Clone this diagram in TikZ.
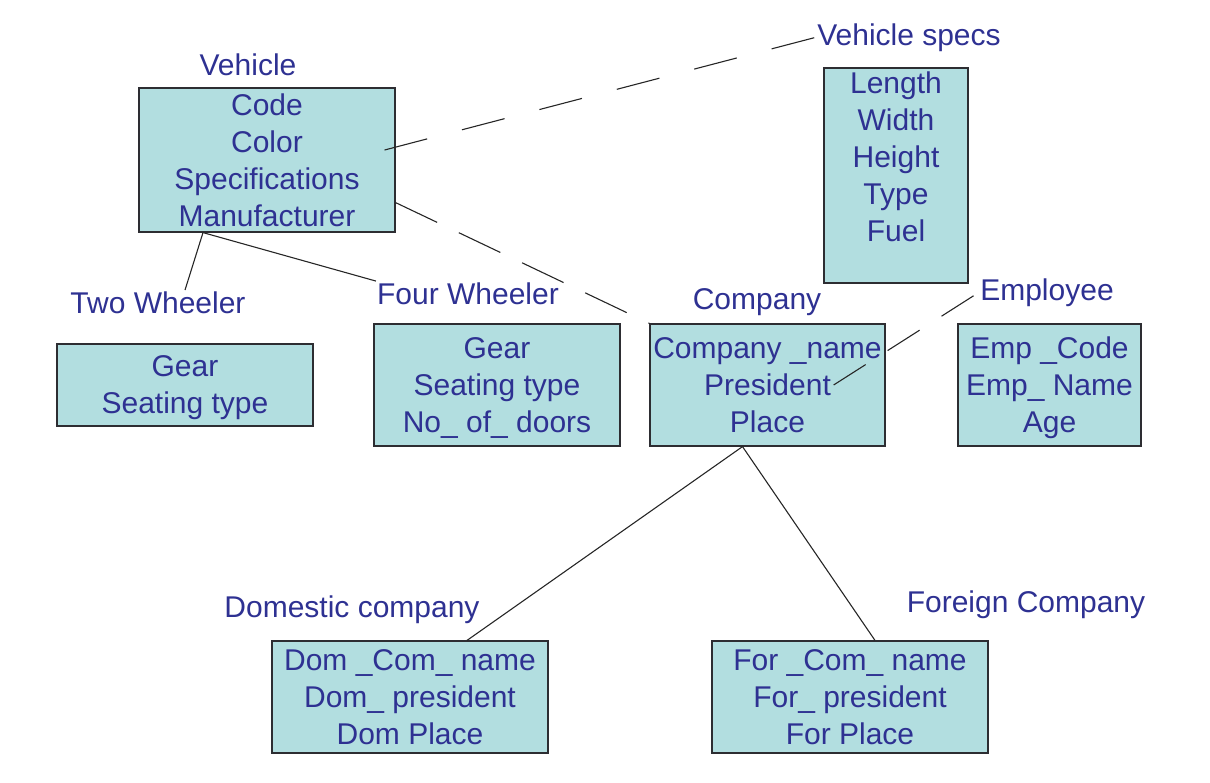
\documentclass[tikz,border=0pt]{standalone}
\usepackage{fontspec}
\setmainfont{Liberation Sans}
\usetikzlibrary{calc}

\definecolor{boxfill}{RGB}{178,222,224}
\definecolor{boxline}{RGB}{45,45,50}
\definecolor{txtblue}{RGB}{46,49,146}

\tikzstyle{entBox} = [rectangle, draw=boxline, fill=boxfill, line width=1.2pt, text=txtblue, align=center, inner sep=2pt, text depth=0pt, font=\fontsize{30}{37}\selectfont]
\tikzstyle{entLabel} = [text=txtblue, inner sep=1pt, anchor=base, font=\fontsize{30}{37}\selectfont]
\tikzstyle{link} = [line width=1.1pt, draw=black!85]
\tikzstyle{dlink} = [link, dash pattern=on 44pt off 36pt]

\begin{document}
\begin{tikzpicture}[x=1pt, y=-1pt]
    \useasboundingbox (0,0) rectangle (1210,782);

    % entity boxes
    \node (vehicle)[entBox, minimum width=256pt, minimum height=144pt] at (267,160) {Code \\ Color \\ Specifications \\ Manufacturer};
    \node (specs)[entBox, minimum width=144pt, minimum height=215pt] at (896,175.5) {Length \\ Width \\ Height \\ Type \\ Fuel \\ \mbox{}};
    \node (twowh)[entBox, minimum width=256pt, minimum height=82pt] at (185,385) {Gear \\ Seating type};
    \node (fourwh)[entBox, minimum width=246pt, minimum height=122pt] at (497,385) {Gear \\ Seating type \\ No\_ of\_ doors};
    \node (company)[entBox, minimum width=235pt, minimum height=122pt] at (767.5,385) {Company \_name \\ President \\ Place};
    \node (employee)[entBox, minimum width=183pt, minimum height=122pt] at (1049.5,385) {Emp \_Code \\ Emp\_ Name \\ Age};
    \node (domestic)[entBox, minimum width=276pt, minimum height=112pt] at (410,697) {Dom \_Com\_ name \\ Dom\_ president \\ Dom Place};
    \node (foreign)[entBox, minimum width=276pt, minimum height=112pt] at (850,697) {For \_Com\_ name \\ For\_ president \\ For Place};

    % entity names
    \node (vehlabel)[entLabel] at (248,75) {Vehicle};
    \node (speclabel)[entLabel] at (909,45) {Vehicle specs};
    \node (twolabel)[entLabel] at (158,313) {Two Wheeler};
    \node (fourlabel)[entLabel] at (468,304) {Four Wheeler};
    \node (complabel)[entLabel] at (757,309) {Company};
    \node (emplabel)[entLabel] at (1047,300) {Employee};
    \node (domlabel)[entLabel] at (352,617) {Domestic company};
    \node (forlabel)[entLabel] at (1026,612) {Foreign Company};

    \coordinate (hub) at ($(vehicle.south)+(-64,0)$);
    \coordinate (split) at ($(company.south)+(-25,0)$);

    \draw [link] (hub) -- ($(twolabel.north)+(27,0)$);
    \draw [link] (hub) -- (fourlabel.north west);
    \draw [dlink] ($(vehicle.east)+(-11,-10)$) -- (speclabel.west);
    \draw [link, dash pattern=on 46pt off 24pt] ($(vehicle.south east)+(0,-30)$) -- (company.north west);
    \draw [link, dash pattern=on 38pt off 26pt] ($(company.east)+(-52,0)$) -- (emplabel.west);
    \draw [link] (split) -- ($(domestic.north)+(57,0)$);
    \draw [link] (split) -- ($(foreign.north)+(25,0)$);

\end{tikzpicture}
\end{document}
